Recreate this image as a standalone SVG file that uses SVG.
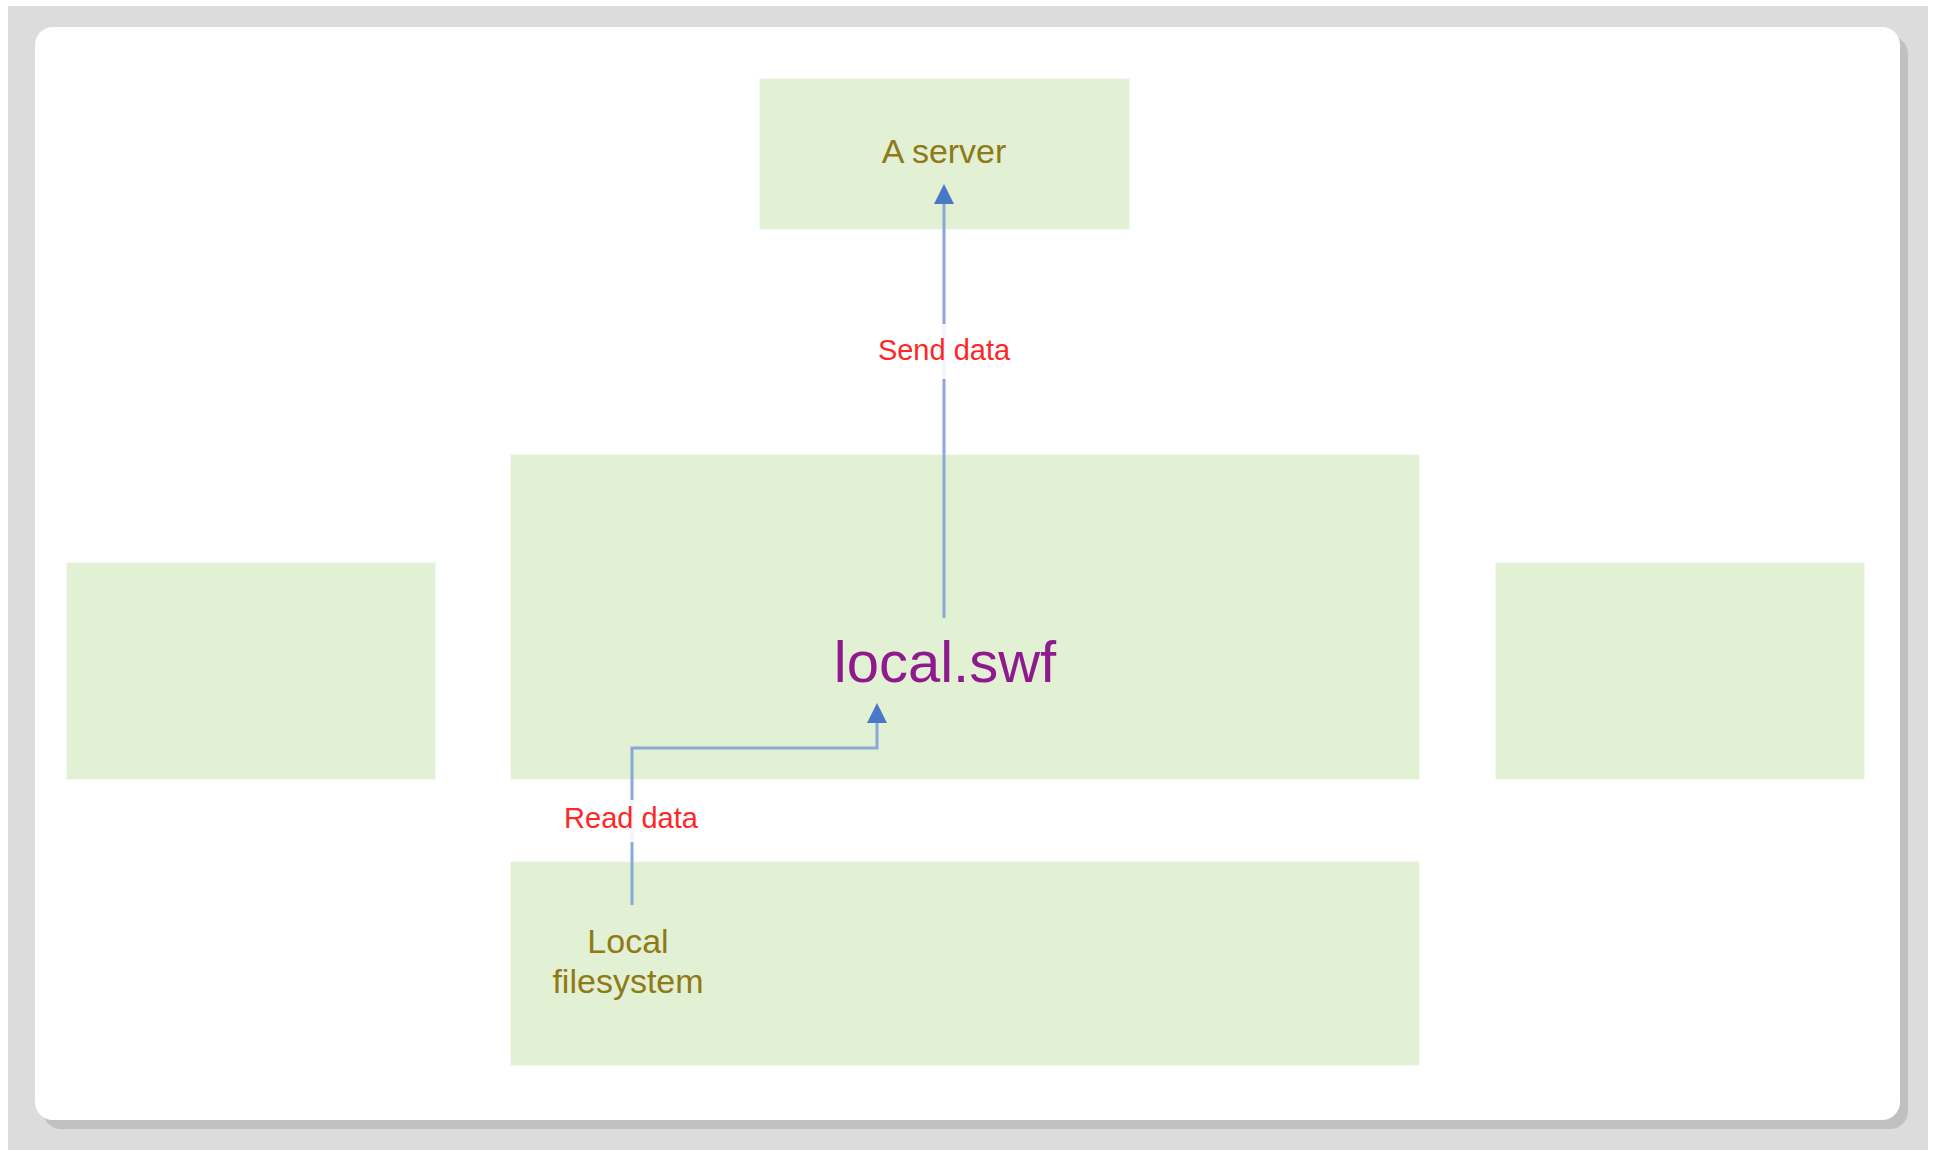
<svg xmlns="http://www.w3.org/2000/svg" width="1937" height="1150" viewBox="0 0 1937 1150">
  <style>
    .box { fill: #e2f0d3; stroke: #e7f3dc; stroke-width: 1; }
    .lbl { font-family: "Liberation Sans", Arial, sans-serif; fill: #8f7a17; text-anchor: middle; }
    .edge-lbl { font-family: "Liberation Sans", Arial, sans-serif; fill: #ff2626; font-size: 29px; text-anchor: middle; }
    .wire { fill: none; stroke: #8aa8da; stroke-width: 3; }
    .gap { fill: #ffffff; fill-opacity: 0.88; }
  </style>

  <rect x="0" y="0" width="1937" height="1150" fill="#ffffff"/>
  <rect x="8" y="6" width="1920" height="1144" fill="#dcdcdc"/>
  <rect x="43" y="36" width="1865" height="1093" rx="18" fill="#c0c0c0"/>
  <rect x="35" y="27" width="1865" height="1093" rx="18" fill="#ffffff"/>

  <g id="node-server">
    <rect class="box" x="760" y="79" width="369" height="150"/>
    <text class="lbl" x="944" y="163" font-size="34">A server</text>
  </g>
  <g id="node-left">
    <rect class="box" x="67" y="563" width="368" height="216"/>
  </g>
  <g id="node-local-swf">
    <rect class="box" x="511" y="455" width="908" height="324"/>
    <text x="945" y="682" font-family="Liberation Sans, Arial, sans-serif" font-size="58" fill="#8e1a8e" text-anchor="middle">local.swf</text>
  </g>
  <g id="node-right">
    <rect class="box" x="1496" y="563" width="368" height="216"/>
  </g>
  <g id="node-filesystem">
    <rect class="box" x="511" y="862" width="908" height="203"/>
    <text class="lbl" x="628" y="953" font-size="34">Local</text>
    <text class="lbl" x="628" y="993" font-size="34">filesystem</text>
  </g>

  <g id="connectors">
    <g id="edge-send">
      <line class="wire" x1="944" y1="618" x2="944" y2="203"/>
      <path d="M934,204 L954,204 L944,184 Z" fill="#4a78c8"/>
      <rect class="gap" x="876" y="324" width="136" height="55"/>
      <text class="edge-lbl" x="944" y="360">Send data</text>
    </g>
    <g id="edge-read">
      <path class="wire" d="M632,905 V748 H877 V722"/>
      <path d="M867,723 L887,723 L877,703 Z" fill="#4a78c8"/>
      <rect class="gap" x="564" y="800" width="136" height="42"/>
      <text class="edge-lbl" x="631" y="828">Read data</text>
    </g>
  </g>
</svg>
